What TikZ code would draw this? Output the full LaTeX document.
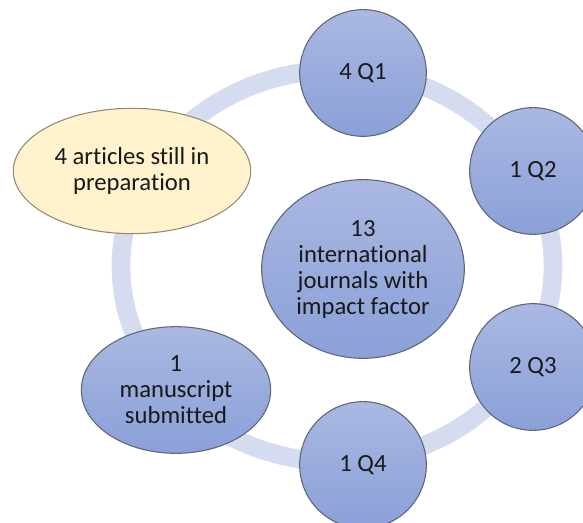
\documentclass[tikz,border=0pt]{standalone}
\usepackage{fontspec}
\setmainfont{Carlito}[Ligatures=NoCommon]
\usetikzlibrary{shapes.geometric}
\definecolor{ringblue}{HTML}{D5DCF0}
\definecolor{topblue}{HTML}{AAB8E2}
\definecolor{botblue}{HTML}{8AA0D8}
\definecolor{edgegray}{HTML}{5E6576}
\definecolor{paleyellow}{HTML}{FFF2CC}
\definecolor{yellowedge}{HTML}{8F8A74}
\tikzset{
  bubble/.style={ellipse, draw=edgegray, line width=0.8pt, top color=topblue,
    bottom color=botblue, inner sep=0pt, align=center, text=black!90,
    font=\fontsize{18.5}{19.5}\selectfont},
  qbubble/.style={bubble, minimum width=95pt, minimum height=95pt},
}
\begin{document}
\begin{tikzpicture}[x=0.75pt, y=-0.75pt]
  \clip (0,0) rectangle (583,523);
  \coordinate (A) at (363,73);
  \coordinate (B) at (533,171);
  \coordinate (C) at (533,367);
  \coordinate (D) at (363,465);
  \coordinate (E) at (176,390);
  \coordinate (F) at (132,171);
  \coordinate (M) at (363,269);
  \draw[ringblue, line width=14pt] (337,266) ellipse (216 and 196);
  \node[bubble, minimum width=152pt, minimum height=134pt] (journals) at (M)
    {13\\international\\journals with\\impact factor};
  \node[qbubble] (q1) at (A) {4 Q1};
  \node[qbubble] (q2) at (B) {1 Q2};
  \node[qbubble] (q3) at (C) {2 Q3};
  \node[qbubble] (q4) at (D) {1 Q4};
  \node[bubble, minimum width=142pt, minimum height=95pt] (submitted) at (E)
    {1\\manuscript\\submitted};
  \node[bubble, draw=yellowedge, top color=paleyellow, bottom color=paleyellow,
    minimum width=178pt, minimum height=94pt] (preparation) at (F)
    {4 articles still in\\preparation};
\end{tikzpicture}
\end{document}
